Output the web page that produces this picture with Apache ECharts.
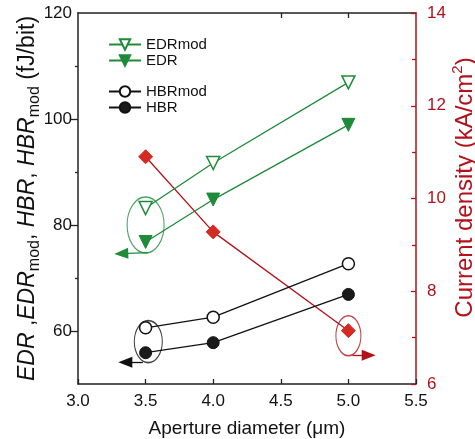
<!DOCTYPE html>
<html>
<head>
<meta charset="utf-8">
<script src="https://cdn.jsdelivr.net/npm/echarts@6/dist/echarts.min.js"></script>
<style>
  html, body { margin: 0; padding: 0; background: #fff; }
  #main { width: 475px; height: 439px; }
</style>
</head>
<body>
<div id="main"></div>
<script>
// 数据
let apertures = [3.5, 4.0, 5.0];
let edrMod = [83.2, 91.7, 106.9];
let edr = [76.8, 84.8, 98.9];
let hbrMod = [60.6, 62.6, 72.7];
let hbr = [55.9, 57.8, 66.9];
let currentDensity = [10.9, 9.28, 7.15];

// 标注（椭圆中心 + 箭头起止点，数据坐标）
let greenRing = [3.5, 80.0];
let blackRing = [3.52, 58.0];
let redRing = [5.0, 7.04];
let greenArrow = [[3.52, 74.8], [3.32, 74.6]];
let blackArrow = [[3.48, 54.1], [3.35, 54.1]];
let redArrow = [[5.03, 6.62], [5.15, 6.62]];

let font = 'Liberation Sans, Arial, sans-serif';
let green = '#1f8a3a';
let red = '#d42a22';
let darkRed = '#b3121b';
let black = '#111';

let chartDom = document.getElementById('main');
let myChart = echarts.init(chartDom);

function zip(xs, ys) {
  return xs.map((x, i) => [x, ys[i]]);
}

function ring(center, size, color, yIndex, arrow) {
  return {
    type: 'scatter',
    yAxisIndex: yIndex,
    silent: true,
    symbol: 'circle',
    symbolSize: size,
    itemStyle: { color: 'rgba(0,0,0,0)', borderColor: color, borderWidth: 1.3 },
    data: [center],
    z: 1,
    markLine: {
      silent: true,
      symbol: ['none', 'triangle'],
      symbolSize: [11, 14],
      lineStyle: { color: color, width: 1.3, type: 'solid' },
      itemStyle: { color: color },
      label: { show: false },
      emphasis: { disabled: true },
      data: [[{ coord: arrow[0] }, { coord: arrow[1] }]]
    }
  };
}

let legendBase = {
  left: 103,
  orient: 'vertical',
  itemWidth: 32,
  itemHeight: 13,
  itemGap: 1,
  textStyle: { fontSize: 15, fontFamily: font, color: black }
};

let option = {
  animation: false,
  backgroundColor: '#fff',
  grid: { left: 78, top: 13, right: 59, bottom: 55, outerBoundsMode: 'none', containLabel: false },
  legend: [
    Object.assign({ top: 32, data: ['EDRmod', 'EDR'] }, legendBase),
    Object.assign({ top: 79, data: ['HBRmod', 'HBR'] }, legendBase)
  ],
  xAxis: [
    {
      type: 'value',
      min: 3,
      max: 5.5,
      interval: 0.5,
      name: 'Aperture diameter (μm)',
      nameLocation: 'middle',
      nameGap: 35,
      nameMoveOverlap: false,
      nameTextStyle: { fontSize: 19, fontFamily: font, color: black },
      axisLine: { lineStyle: { color: '#222', width: 1.5 } },
      axisTick: { inside: true, length: 5, lineStyle: { color: '#222', width: 1.3 } },
      axisLabel: {
        margin: 9,
        fontSize: 17,
        fontFamily: font,
        color: black,
        formatter: (v) => v.toFixed(1)
      },
      splitLine: { show: false }
    },
    {
      type: 'value',
      position: 'top',
      min: 3,
      max: 5.5,
      interval: 0.5,
      axisLine: { lineStyle: { color: '#222', width: 1.5 } },
      axisTick: { inside: true, length: 5, customValues: [4.5, 5.0], lineStyle: { color: '#222', width: 1.3 } },
      axisLabel: { show: false },
      splitLine: { show: false }
    }
  ],
  yAxis: [
    {
      type: 'value',
      min: 50,
      max: 120,
      interval: 10,
      position: 'left',
      name: '{i|EDR}{n| ,}{i|EDR}{s|mod}{n|, }{i|HBR}{n|, }{i|HBR}{s|mod}{n| (fJ/bit)}',
      nameLocation: 'middle',
      nameGap: 35,
      nameMoveOverlap: false,
      nameTextStyle: {
        fontFamily: font,
        color: black,
        rich: {
          i: { fontSize: 23, fontStyle: 'italic', fontFamily: font, color: black, lineHeight: 30 },
          n: { fontSize: 23, fontFamily: font, color: black, lineHeight: 30 },
          s: { fontSize: 16, fontFamily: font, color: black, lineHeight: 16, verticalAlign: 'bottom' }
        }
      },
      axisLine: { show: true, lineStyle: { color: '#222', width: 1.5 } },
      axisTick: { show: true, length: 7, customValues: [60, 80, 100], lineStyle: { color: '#222', width: 1.3 } },
      axisLabel: {
        margin: 6,
        fontSize: 17,
        fontFamily: font,
        color: black,
        customValues: [60, 80, 100, 120]
      },
      splitLine: { show: false }
    },
    {
      type: 'value',
      min: 6,
      max: 14,
      interval: 2,
      position: 'right',
      name: '{n|Current density (kA/cm}{p|2}{n|)}',
      nameLocation: 'middle',
      nameGap: 34,
      nameMoveOverlap: false,
      nameTextStyle: {
        fontFamily: font,
        color: darkRed,
        padding: [0, 0, 0, 22],
        rich: {
          n: { fontSize: 24, fontFamily: font, color: darkRed, lineHeight: 30 },
          p: { fontSize: 15, fontFamily: font, color: darkRed, lineHeight: 15, verticalAlign: 'top' }
        }
      },
      axisLine: { show: true, lineStyle: { color: darkRed, width: 1.5 } },
      axisTick: { show: true, inside: true, length: 5, lineStyle: { color: darkRed, width: 1.3 } },
      minorTick: { show: true, splitNumber: 2, length: 4, lineStyle: { color: darkRed, width: 1.3 } },
      axisLabel: { margin: 11, fontSize: 17, fontFamily: font, color: darkRed },
      splitLine: { show: false }
    },
    {
      // 左轴次刻度
      type: 'value',
      min: 50,
      max: 120,
      interval: 10,
      position: 'left',
      axisLine: { show: false },
      axisTick: { show: true, length: 3, customValues: [70, 90, 110], lineStyle: { color: '#222', width: 1.3 } },
      axisLabel: { show: false },
      splitLine: { show: false }
    }
  ],
  series: [
    {
      name: 'EDRmod',
      type: 'line',
      symbol: 'triangle',
      symbolRotate: 180,
      symbolSize: 13,
      lineStyle: { color: green, width: 1.3 },
      itemStyle: { color: '#fff', borderColor: green, borderWidth: 1.5 },
      data: zip(apertures, edrMod),
      z: 3
    },
    {
      name: 'EDR',
      type: 'line',
      symbol: 'triangle',
      symbolRotate: 180,
      symbolSize: 13,
      lineStyle: { color: green, width: 1.3 },
      itemStyle: { color: green, borderColor: green, borderWidth: 1 },
      data: zip(apertures, edr),
      z: 3
    },
    {
      name: 'HBRmod',
      type: 'line',
      symbol: 'circle',
      symbolSize: 12,
      lineStyle: { color: black, width: 1.3 },
      itemStyle: { color: '#fff', borderColor: black, borderWidth: 1.5 },
      data: zip(apertures, hbrMod),
      z: 3
    },
    {
      name: 'HBR',
      type: 'line',
      symbol: 'circle',
      symbolSize: 12,
      lineStyle: { color: black, width: 1.3 },
      itemStyle: { color: '#1a1a1a', borderColor: black, borderWidth: 1 },
      data: zip(apertures, hbr),
      z: 3
    },
    {
      name: 'Current density',
      type: 'line',
      yAxisIndex: 1,
      symbol: 'diamond',
      symbolSize: 14,
      lineStyle: { color: darkRed, width: 1.3 },
      itemStyle: { color: red, borderColor: red, borderWidth: 1 },
      data: zip(apertures, currentDensity),
      z: 2
    },
    ring(greenRing, [37, 56], green, 0, greenArrow),
    ring(blackRing, [28, 42], black, 0, blackArrow),
    ring(redRing, [25, 40], darkRed, 1, redArrow)
  ]
};

option && myChart.setOption(option);
</script>
</body>
</html>
